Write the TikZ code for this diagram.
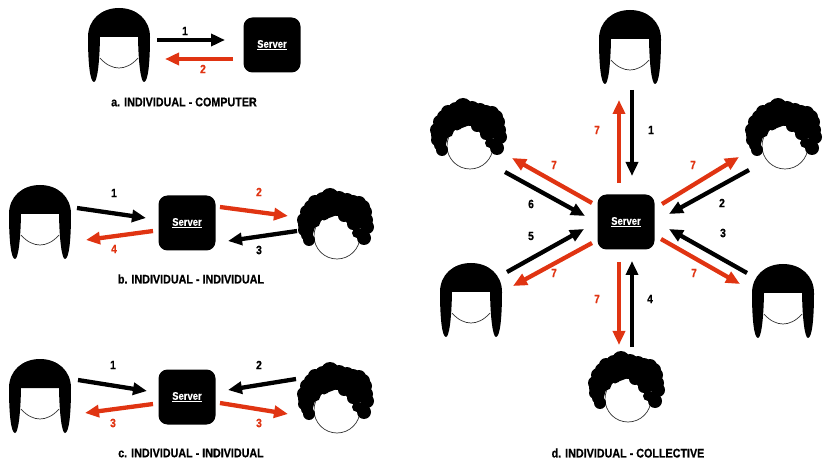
\documentclass[tikz,border=0pt]{standalone}
\usepackage{fontspec}
\setmainfont[FakeStretch=0.86,BoldFeatures={FakeBold=0.6}]{Liberation Sans}
\usetikzlibrary{arrows.meta}
\definecolor{msgred}{HTML}{E03412}
\tikzset{
  x=1pt,y=-1pt,
  server/.style={fill=black,rounded corners=9pt,minimum width=57pt,minimum height=55pt,inner sep=0pt,text=white,font=\bfseries\fontsize{11}{12}\selectfont},
  anchorpt/.style={inner sep=0pt,minimum size=0pt},
  req/.style={draw=black,line width=4.3pt,-{Triangle[length=14pt,width=12pt]}},
  resp/.style={draw=msgred,line width=4.3pt,-{Triangle[length=14pt,width=12pt]}},
  num/.style={font=\bfseries\fontsize{12}{14}\selectfont,inner sep=0pt},
  rednum/.style={num,text=msgred},
  caption/.style={font=\bfseries\fontsize{12.5}{14}\selectfont,inner sep=0pt},
  longhair/.pic={
    \draw[line width=0.7pt,black!80] (-19,13) .. controls (-13,20) and (-6,23) .. (0,23) .. controls (6,23) and (13,20) .. (19,13);
    \fill[black] (-31,-8) .. controls (-31,-25) and (-18,-37) .. (0,-37)
      .. controls (18,-37) and (31,-25) .. (31,-8)
      .. controls (31,18) and (29,37) .. (25,37)
      .. controls (22,37) and (19.5,20) .. (19,-8) -- (-19,-8)
      .. controls (-19.5,20) and (-22,37) .. (-25,37)
      .. controls (-29,37) and (-31,18) .. (-31,-8) -- cycle;
  },
  curlyhair/.pic={
    \draw[line width=0.7pt,black!80] (0,0) circle[radius=23];
    % outer curls
    \fill[black]
      (-28,4) circle[radius=6] (-33,-6) circle[radius=6] (-33,-16) circle[radius=7]
      (-30,-24) circle[radius=7] (-22,-34) circle[radius=7] (-7,-39) circle[radius=9]
      (10,-36) circle[radius=7] (22,-33) circle[radius=7] (28,-24) circle[radius=7]
      (30,-9) circle[radius=7] (27,2) circle[radius=7] (20,-3) circle[radius=5];
    % filler curls that close the notches of the outline
    \fill[black]
      (-14,-36) circle[radius=8] (2,-37) circle[radius=8] (16,-34) circle[radius=7]
      (26,-29) circle[radius=7] (-26,-29) circle[radius=7] (29,-16) circle[radius=7]
      (-33,-11) circle[radius=6] (-30,-1) circle[radius=6];
    % curls along the forehead
    \fill[black]
      (-22,-14) circle[radius=5.5] (-13,-21) circle[radius=5.5] (0,-26) circle[radius=6]
      (7,-20) circle[radius=6] (16,-12) circle[radius=6];
    \fill[black] (-32,-16) -- (-22,-34) -- (-7,-39) -- (22,-33) -- (30,-16) -- (19,-3)
      -- (15,-8) -- (7,-16) -- (0,-21) -- (-8,-18) -- (-15,-16) -- (-22,-9) -- (-25,1) -- cycle;
  },
}
\newcommand{\srv}{\underline{Server}}
\begin{document}
\begin{tikzpicture}
\useasboundingbox (0,0) rectangle (830,470);

% Panel a
\node[anchorpt] (pa) at (119,45) {};
\pic at (pa) {longhair};
\node[server] (sa) at (272,45) {\srv};
\draw[req] ([shift={(38,-5)}]pa.center) -- ([shift={(-47,-5)}]sa.center);
\draw[resp] ([shift={(-39,14)}]sa.center) -- ([shift={(46,14)}]pa.center);
\node[num] (la1) at (185,31) {1};
\node[rednum] (la2) at (203,69) {2};
\node[caption] (ca) at (184,102) {a. INDIVIDUAL - COMPUTER};

% Panel b
\node[anchorpt] (pb) at (40,222) {};
\pic at (pb) {longhair};
\node[server] (sb) at (187,223) {\srv};
\node[anchorpt] (qb) at (337,236) {};
\pic at (qb) {curlyhair};
\draw[req] ([shift={(37,-14)}]pb.center) -- ([shift={(-41,-5)}]sb.center);
\draw[resp] ([shift={(33,-16)}]sb.center) -- ([shift={(-49,-20)}]qb.center);
\draw[req] ([shift={(-40,-5)}]qb.center) -- ([shift={(41,18)}]sb.center);
\draw[resp] ([shift={(-34,8)}]sb.center) -- ([shift={(46,18)}]pb.center);
\node[num] at (114,193) {1};
\node[rednum] at (259,192) {2};
\node[num] at (259,250) {3};
\node[rednum] at (114,249) {4};
\node[caption] (cb) at (191,279) {b. INDIVIDUAL - INDIVIDUAL};

% Panel c
\node[anchorpt] (pc) at (40,396) {};
\pic at (pc) {longhair};
\node[server] (sc) at (187,397) {\srv};
\node[anchorpt] (qc) at (337,410) {};
\pic at (qc) {curlyhair};
\draw[req] ([shift={(38,-16)}]pc.center) -- ([shift={(-40,-6)}]sc.center);
\draw[req] ([shift={(-41,-31)}]qc.center) -- ([shift={(41,-7)}]sc.center);
\draw[resp] ([shift={(-34,7)}]sc.center) -- ([shift={(45,17)}]pc.center);
\draw[resp] ([shift={(33,6)}]sc.center) -- ([shift={(-49,4)}]qc.center);
\node[num] at (113,365) {1};
\node[num] at (259,365) {2};
\node[rednum] at (113,423) {3};
\node[rednum] at (259,423) {3};
\node[caption] (cc) at (191,453) {c. INDIVIDUAL - INDIVIDUAL};

% Panel d: the server with six participants around it
\node[server] (sd) at (626,222) {\srv};
\node[anchorpt] (d1) at (630,47) {};
\pic at (d1) {longhair};
\node[anchorpt] (d2) at (785,146) {};
\pic at (d2) {curlyhair};
\node[anchorpt] (d3) at (783,301) {};
\pic at (d3) {longhair};
\node[anchorpt] (d4) at (628,399) {};
\pic at (d4) {curlyhair};
\node[anchorpt] (d5) at (471,300) {};
\pic at (d5) {longhair};
\node[anchorpt] (d6) at (470,146) {};
\pic at (d6) {curlyhair};

\draw[req] ([shift={(2,43)}]d1.center) -- ([shift={(6,-46)}]sd.center);
\draw[resp] ([shift={(-7,-39)}]sd.center) -- ([shift={(-11,53)}]d1.center);
\draw[req] ([shift={(-36,24)}]d2.center) -- ([shift={(43,-8)}]sd.center);
\draw[resp] ([shift={(36,-18)}]sd.center) -- ([shift={(-46,11)}]d2.center);
\draw[req] ([shift={(-36,-28)}]d3.center) -- ([shift={(43,7)}]sd.center);
\draw[resp] ([shift={(35,17)}]sd.center) -- ([shift={(-43,-17)}]d3.center);
\draw[req] ([shift={(4,-52)}]d4.center) -- ([shift={(6,39)}]sd.center);
\draw[resp] ([shift={(-7,40)}]sd.center) -- ([shift={(-9,-54)}]d4.center);
\draw[req] ([shift={(36,-28)}]d5.center) -- ([shift={(-42,7)}]sd.center);
\draw[resp] ([shift={(-34,21)}]sd.center) -- ([shift={(42,-14)}]d5.center);
\draw[req] ([shift={(35,26)}]d6.center) -- ([shift={(-41,-6)}]sd.center);
\draw[resp] ([shift={(-34,-19)}]sd.center) -- ([shift={(42,12)}]d6.center);

\node[num] at (651,130) {1};
\node[rednum] at (597,130) {7};
\node[num] at (722,203) {2};
\node[rednum] at (693,165) {7};
\node[num] at (723,233) {3};
\node[rednum] at (694,273) {7};
\node[num] at (650,299) {4};
\node[rednum] at (597,299) {7};
\node[num] at (531,236) {5};
\node[rednum] at (554,273) {7};
\node[num] at (531,204) {6};
\node[rednum] at (554,165) {7};
\node[caption] (cd) at (628,453) {d. INDIVIDUAL - COLLECTIVE};
\end{tikzpicture}
\end{document}
